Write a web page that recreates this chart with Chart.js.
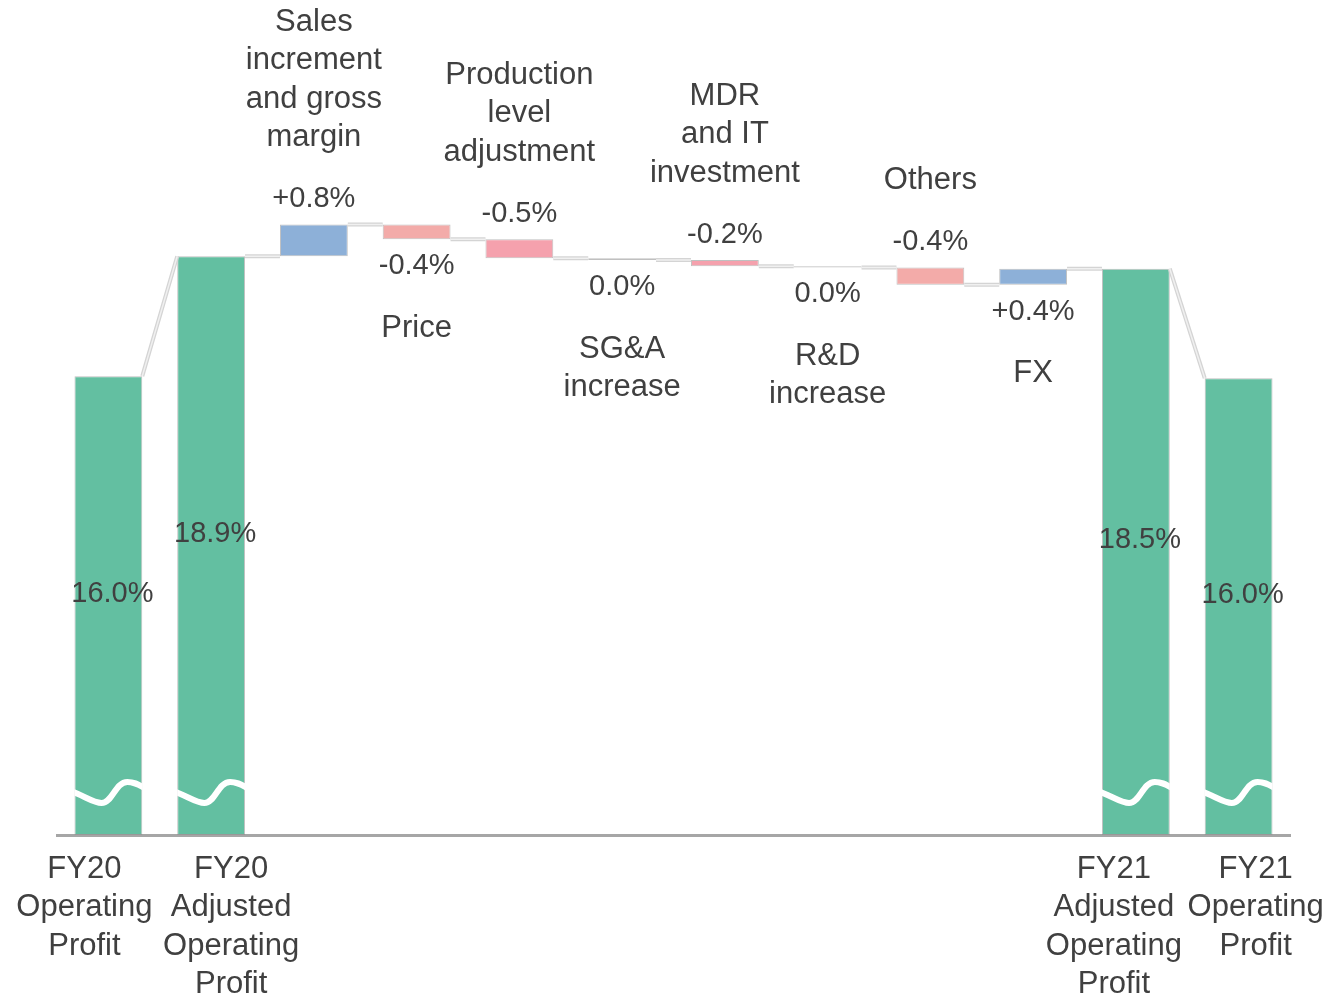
<!DOCTYPE html>
<html>
<head>
<meta charset="utf-8">
<script src="https://cdn.jsdelivr.net/npm/chart.js@4.4.1/dist/chart.umd.min.js"></script>
<style>
  html, body { margin: 0; padding: 0; background: #fff; }
  #wrap { width: 1328px; height: 999px; position: relative; }
</style>
</head>
<body>
<div id="wrap"><canvas id="waterfall"></canvas></div>
<script>
// category names (one entry per bar, split into lines)
const categories = [
  ['FY20', 'Operating', 'Profit'],
  ['FY20', 'Adjusted', 'Operating', 'Profit'],
  ['Sales', 'increment', 'and gross', 'margin'],
  ['Price'],
  ['Production', 'level', 'adjustment'],
  ['SG&A', 'increase'],
  ['MDR', 'and IT', 'investment'],
  ['R&D', 'increase'],
  ['Others'],
  ['FX'],
  ['FY21', 'Adjusted', 'Operating', 'Profit'],
  ['FY21', 'Operating', 'Profit']
];

// values (percent)
const startTotals = [16.0, 18.9];
const deltas = [0.77, -0.36, -0.46, -0.04, -0.15, -0.03, -0.42, 0.39];
const endTotals = [18.6, 15.95];
const valueLabels = ['16.0%', '18.9%', '+0.8%', '-0.4%', '-0.5%', '0.0%', '-0.2%', '0.0%', '-0.4%', '+0.4%', '18.5%', '16.0%'];

const GREEN = '#63bfa1', BLUE = '#8db0d8', PINK = '#f3aba9', ROSE = '#f5a1ad';
const barColors = [GREEN, GREEN, BLUE, PINK, ROSE, ROSE, ROSE, ROSE, PINK, BLUE, GREEN, GREEN];

const Y_MIN = 4.9, Y_MAX = 25.1;
const FONT = '"Liberation Sans", Arial, sans-serif';
const TEXT = '#404040';

// floating bars + levels used for the connectors
const bars = [];
const levels = [];
startTotals.forEach(v => { bars.push([Y_MIN, v]); levels.push({ from: v, to: v, total: true }); });
let running = startTotals[startTotals.length - 1];
deltas.forEach(d => {
  bars.push([running, running + d]);
  levels.push({ from: running, to: running + d, total: false });
  running += d;
});
endTotals.forEach(v => { bars.push([Y_MIN, v]); levels.push({ from: v, to: v, total: true }); });

// horizontal nudges for the bottom labels (they are spread apart in the original)
const bottomNudge = { 0: -24, 1: 20, 10: -22, 11: 17 };

const waterfallDecor = {
  id: 'waterfallDecor',
  afterDatasetsDraw(chart) {
    const ctx = chart.ctx;
    const meta = chart.getDatasetMeta(0);
    const y = chart.scales.y;
    const area = chart.chartArea;

    // connectors
    ctx.save();
    ctx.lineCap = 'butt';
    for (let i = 0; i < meta.data.length - 1; i++) {
      const a = meta.data[i], b = meta.data[i + 1];
      const x1 = a.x + a.width / 2, y1 = y.getPixelForValue(levels[i].to);
      const x2 = b.x - b.width / 2, y2 = y.getPixelForValue(levels[i + 1].from);
      ctx.beginPath();
      ctx.moveTo(x1, y1);
      ctx.lineTo(x2, y2);
      ctx.strokeStyle = '#d4d4d4';
      ctx.lineWidth = 4;
      ctx.stroke();
      ctx.strokeStyle = '#f0f0f0';
      ctx.lineWidth = 1.5;
      ctx.stroke();
    }
    ctx.restore();

    // axis-break waves on the total bars
    ctx.save();
    const bot = area.bottom;
    meta.data.forEach((bar, i) => {
      if (!levels[i].total) return;
      const x0 = bar.x - bar.width / 2, w = bar.width;
      ctx.save();
      ctx.beginPath();
      ctx.rect(x0, bot - 80, w, 80);
      ctx.clip();
      ctx.beginPath();
      ctx.moveTo(x0 - 4, bot - 44);
      ctx.bezierCurveTo(x0 + 0.15 * w, bot - 39, x0 + 0.28 * w, bot - 32, x0 + 0.4 * w, bot - 32);
      ctx.bezierCurveTo(x0 + 0.56 * w, bot - 32, x0 + 0.6 * w, bot - 53, x0 + 0.78 * w, bot - 53);
      ctx.bezierCurveTo(x0 + 0.9 * w, bot - 53, x0 + 0.95 * w, bot - 50, x0 + w + 4, bot - 46);
      ctx.strokeStyle = '#ffffff';
      ctx.lineWidth = 6;
      ctx.stroke();
      ctx.restore();
    });
    ctx.restore();

    // labels
    ctx.save();
    ctx.fillStyle = TEXT;
    ctx.textAlign = 'center';
    ctx.textBaseline = 'middle';
    const lh = 38.5;
    meta.data.forEach((bar, i) => {
      const lv = levels[i];
      const names = categories[i];
      if (lv.total) {
        const top = y.getPixelForValue(lv.to);
        ctx.font = '29px ' + FONT;
        ctx.fillText(valueLabels[i], bar.x + 4, (top + area.bottom) / 2 - 12);
        ctx.font = '31px ' + FONT;
        const nx = bar.x + (bottomNudge[i] || 0);
        names.forEach((t, k) => ctx.fillText(t, nx, area.bottom + 34 + k * lh));
      } else {
        const topPx = y.getPixelForValue(Math.max(lv.from, lv.to));
        const botPx = y.getPixelForValue(Math.min(lv.from, lv.to));
        const above = (i - startTotals.length) % 2 === 0;
        if (above) {
          const vy = topPx - 25;
          ctx.font = '29px ' + FONT;
          ctx.fillText(valueLabels[i], bar.x, vy);
          ctx.font = '31px ' + FONT;
          const last = vy - 62;
          names.forEach((t, k) => ctx.fillText(t, bar.x, last - (names.length - 1 - k) * lh));
        } else {
          const vy = botPx + 27;
          ctx.font = '29px ' + FONT;
          ctx.fillText(valueLabels[i], bar.x, vy);
          ctx.font = '31px ' + FONT;
          names.forEach((t, k) => ctx.fillText(t, bar.x, vy + 62 + k * lh));
        }
      }
    });
    ctx.restore();
  }
};

new Chart(document.getElementById('waterfall'), {
  type: 'bar',
  data: {
    labels: categories.map(c => c.join(' ')),
    datasets: [{
      data: bars,
      backgroundColor: barColors,
      borderColor: 'rgba(140, 140, 140, 0.55)',
      borderWidth: 1,
      borderSkipped: false,
      barPercentage: 0.66,
      categoryPercentage: 1.0
    }]
  },
  options: {
    responsive: true,
    maintainAspectRatio: false,
    animation: false,
    layout: { padding: { left: 57, right: 38, top: 0, bottom: 156 } },
    plugins: {
      legend: { display: false },
      tooltip: { enabled: false }
    },
    scales: {
      x: {
        grid: { display: false },
        ticks: { display: false },
        border: { display: true, color: '#a6a6a6', width: 3 }
      },
      y: {
        display: false,
        min: Y_MIN,
        max: Y_MAX
      }
    }
  },
  plugins: [waterfallDecor]
});
</script>
</body>
</html>
